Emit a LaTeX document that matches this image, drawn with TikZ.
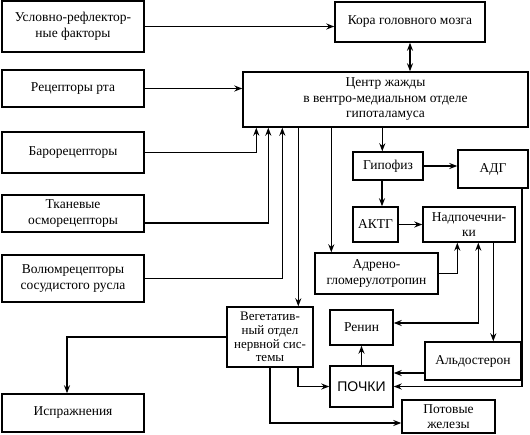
\documentclass[tikz,border=0pt]{standalone}
\usepackage{fontspec}
\setmainfont{Liberation Serif}
\newfontfamily\sansf{Liberation Sans}
\usetikzlibrary{arrows.meta}
\tikzset{
  box/.style={draw, line width=1.4pt, inner sep=0pt, align=center, font=\fontsize{13.5}{15.5}\selectfont},
  arr/.style={line width=1.4pt, -{Stealth[length=8pt,width=6pt]}},
  darr/.style={line width=1.4pt, {Stealth[length=8pt,width=6pt]}-{Stealth[length=8pt,width=6pt]}},
}
\begin{document}
\begin{tikzpicture}[x=1pt,y=-1pt]
\useasboundingbox (0,0) rectangle (530,434);
\node[box, minimum width=142pt, minimum height=51pt] (ur) at (73,26.5) {Условно-рефлектор-\\ные факторы};
\node[box, minimum width=142pt, minimum height=37pt] (rr) at (73,88.5) {Рецепторы рта};
\node[box, minimum width=142pt, minimum height=41pt] (baro) at (73,152.5) {Барорецепторы};
\node[box, minimum width=142pt, minimum height=37pt] (tk) at (73,213.5) {Тканевые\\осморецепторы};
\node[box, minimum width=142pt, minimum height=47pt] (vol) at (73,278.5) {Волюмрецепторы\\сосудистого русла};
\node[box, minimum width=142pt, minimum height=38pt] (isp) at (73,413) {Испражнения};
\node[box, minimum width=150pt, minimum height=40pt] (kora) at (410,22) {Кора головного мозга};
\node[box, minimum width=285pt, minimum height=55pt] (centr) at (385.5,99.5) {Центр жажды\\в вентро-медиальном отделе\\гипоталамуса};
\node[box, minimum width=70pt, minimum height=28pt] (gip) at (388,166) {Гипофиз};
\node[box, minimum width=70pt, minimum height=38pt] (adg) at (493,169) {АДГ};
\node[box, minimum width=45pt, minimum height=35pt] (aktg) at (375.5,224.5) {АКТГ};
\node[box, minimum width=92pt, minimum height=35pt] (nadp) at (469,224.5) {Надпочечни-\\ки};
\node[box, minimum width=123pt, minimum height=41pt] (adr) at (376.5,273.5) {Адрено-\\гломерулотропин};
\node[box, minimum width=86pt, minimum height=60pt, font=\fontsize{13}{13.8}\selectfont] (veg) at (270,337) {Вегетатив-\\ный отдел\\нервной сис-\\темы};
\node[box, minimum width=63pt, minimum height=35pt] (renin) at (361.5,327.5) {Ренин};
\node[box, minimum width=63pt, minimum height=41pt, font=\sansf\fontsize{14}{16}\selectfont] (pochki) at (361.5,386.5) {ПОЧКИ};
\node[box, minimum width=96pt, minimum height=38pt] (aldo) at (473,361) {Альдостерон};
\node[box, minimum width=93pt, minimum height=33pt] (pot) at (448.5,416.5) {Потовые\\железы};
% inputs
\draw[arr] (ur.east) -- (ur.east -| kora.west);
\draw[arr] (rr.east) -- (rr.east -| centr.west);
\draw[arr] (baro.east) -| ([xshift=14pt]centr.south west);
\draw[arr] ([yshift=-9.5pt]tk.east) -| ([xshift=26pt]centr.south west);
\draw[arr] (vol.east) -| ([xshift=40pt]centr.south west);
\draw[darr] (kora.south) -- (kora.south |- centr.north);
% outputs of centre
\draw[arr] ([xshift=56pt]centr.south west) -- ([xshift=56pt]centr.south west |- veg.north);
\draw[arr] ([xshift=89pt]centr.south west) -- ([xshift=89pt]centr.south west |- adr.north);
\draw[arr] ([xshift=140pt]centr.south west) -- ([xshift=140pt]centr.south west |- gip.north);
% hormones
\draw[arr] (gip.east) -- (gip.east -| adg.west);
\draw[arr] ([xshift=-6pt]gip.south) -- ([xshift=-6pt]gip.south |- aktg.north);
\draw[arr] (aktg.east) -- (aktg.east -| nadp.west);
\draw[arr] (adr.east) -| ([xshift=35pt]nadp.south west);
\draw[darr] ([yshift=4.5pt]renin.east) -| ([xshift=56pt]nadp.south west);
\draw[arr] ([xshift=71pt]nadp.south west) -- ([xshift=71pt]nadp.south west |- aldo.north);
\draw[arr] ([xshift=29pt]adg.south) |- (pochki.east);
\draw[arr] ([yshift=-12pt]aldo.west) -- ([yshift=-12pt]aldo.west -| pochki.east);
\draw[arr] (pochki.north) -- (renin.south);
% vegetative
\draw[arr] (veg.west) -| ([xshift=-6pt]isp.north);
\draw[arr] ([xshift=28pt]veg.south) |- (pochki.west);
\draw[arr] (veg.south) |- ([yshift=-6.5pt]pot.west);
\end{tikzpicture}
\end{document}
